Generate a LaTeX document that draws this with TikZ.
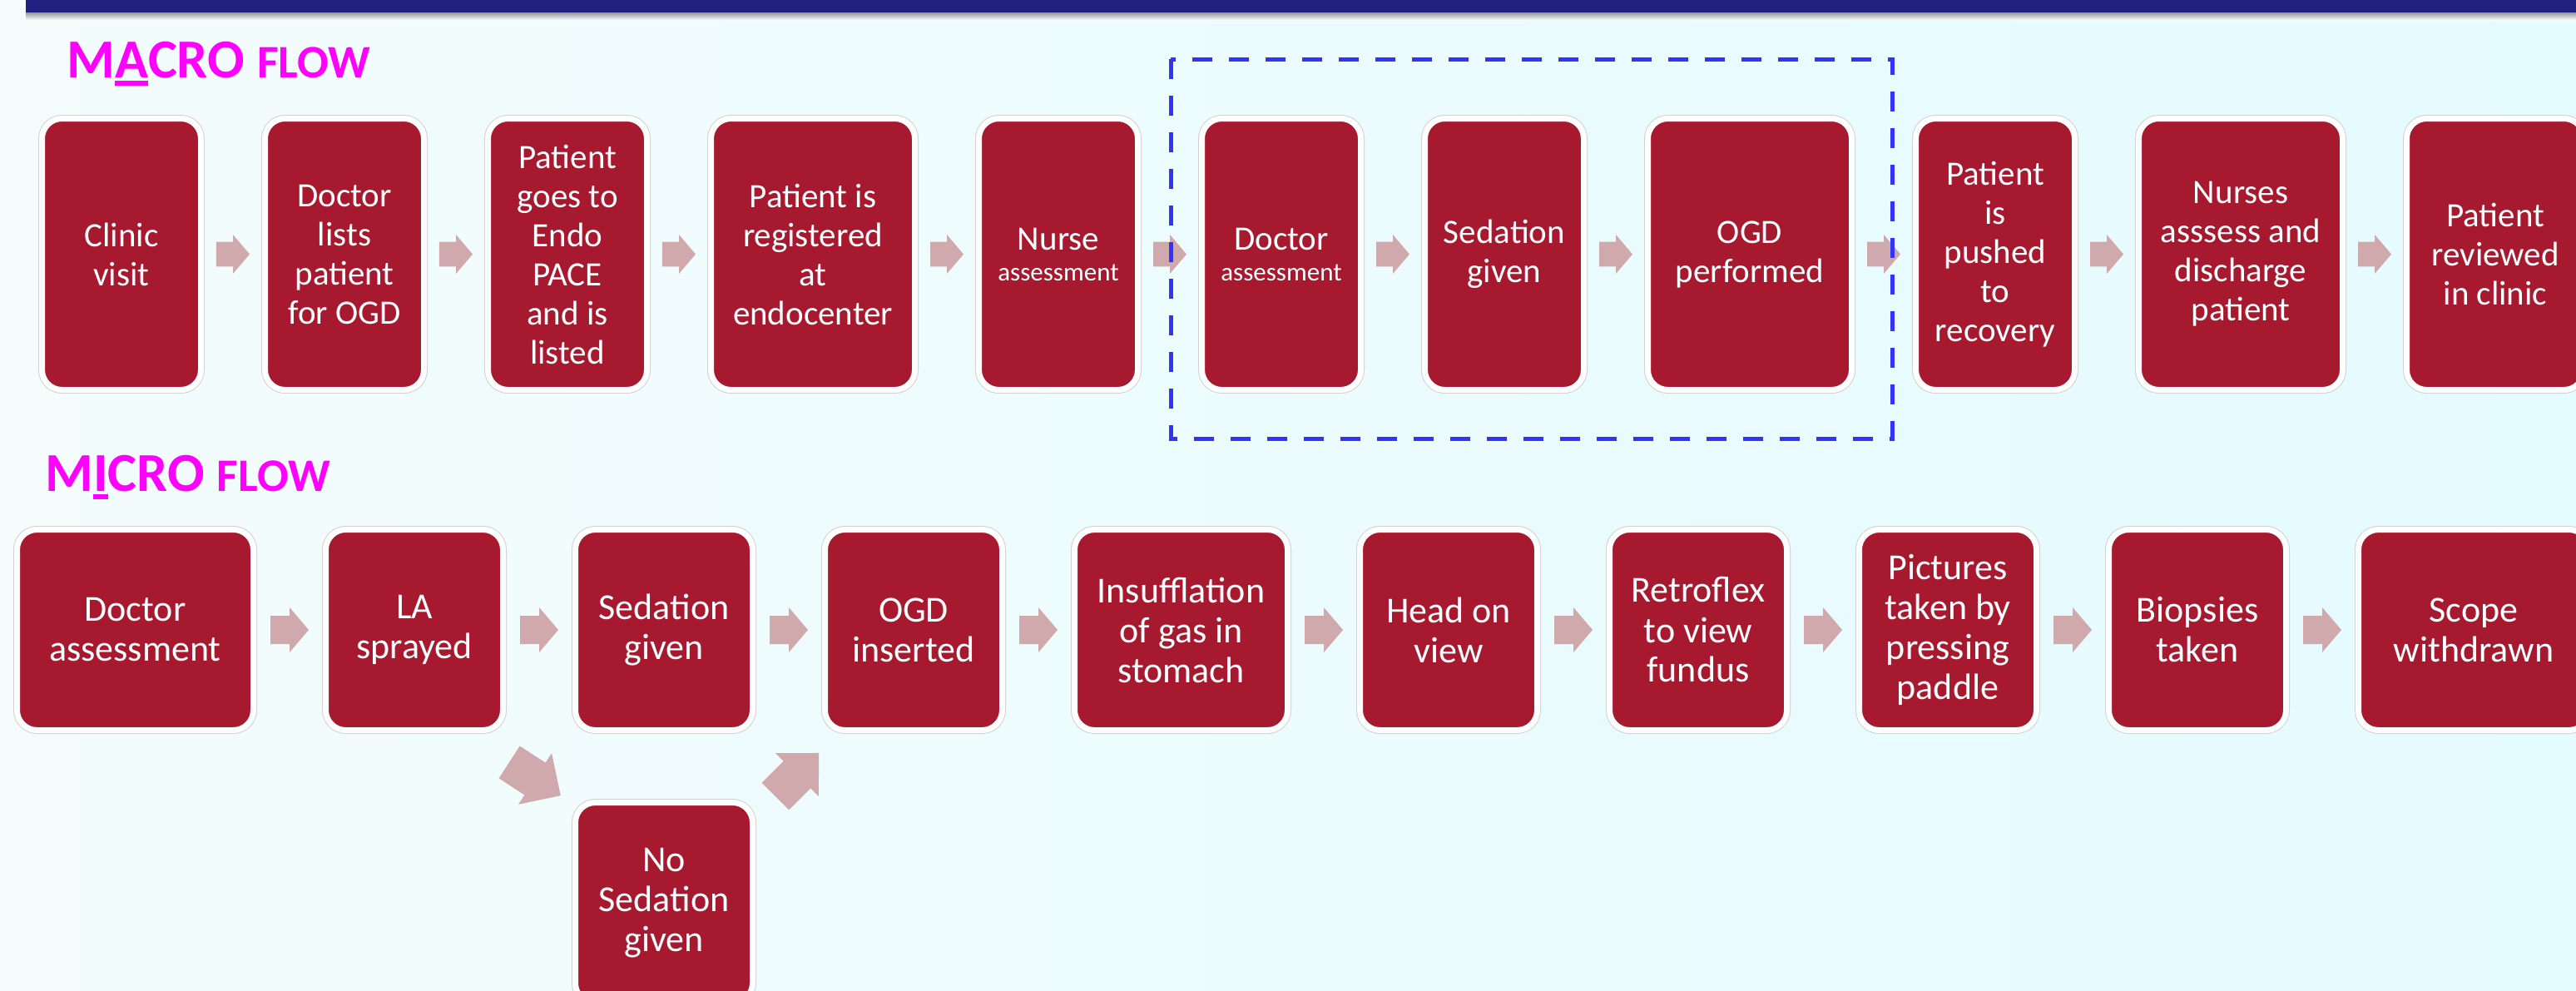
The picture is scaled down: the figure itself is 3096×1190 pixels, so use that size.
\documentclass[tikz,border=0pt]{standalone}
\usepackage{fontspec}
\setmainfont{Carlito}
\usetikzlibrary{positioning,calc}
\definecolor{boxred}{RGB}{166,25,46}
\definecolor{arrowpink}{RGB}{207,169,172}
\definecolor{titlemag}{RGB}{255,0,255}
\definecolor{dashblue}{RGB}{51,51,255}
\definecolor{barnavy}{RGB}{32,32,128}
\definecolor{bgleft}{RGB}{244,252,252}
\definecolor{bgright}{RGB}{228,251,255}
\newcommand\thickul[1]{\setbox0=\hbox{#1}\rlap{\rule[-5pt]{\wd0}{3pt}}\box0}

\begin{document}
\begin{tikzpicture}
  [x=0.5pt,y=-0.5pt,
  mbox/.style={rectangle,rounded corners=12pt,fill=boxred,draw=white,line width=3.5pt,
    preaction={draw=black!18,line width=4.5pt},text=white,align=center,inner sep=2pt,
    minimum width=95.5pt,minimum height=163pt,font=\fontsize{20.5}{23.5}\selectfont},
  nbox/.style={mbox,minimum width=106.5pt,minimum height=120.5pt,font=\fontsize{22}{24}\selectfont},
  flowtitle/.style={anchor=base west,inner sep=0pt,text=titlemag,font=\fontsize{33}{36}\selectfont\bfseries},
  blockarrow/.pic={\fill[arrowpink] (-23,-17) -- (0,-17) -- (0,-27) -- (23,0) -- (0,27) -- (0,17) -- (-23,17) -- cycle;},
  groupbox/.style={draw=dashblue,line width=2.5pt,dash pattern=on 12pt off 10pt}]

  \useasboundingbox (0,0) rectangle (3096,1190);
  \clip (0,0) rectangle (3096,1190);
  \shade[left color=bgleft,right color=bgright] (0,0) rectangle (3096,1190);
  \shade[top color=black!40,bottom color=bgleft] (31,15) rectangle (3096,24);
  \fill[barnavy] (31,0) rectangle (3096,15);

  \node (tmacro) [flowtitle] at (80,93) {M\thickul{A}CRO {\fontsize{28}{30}\selectfont FLOW}};
  \node (tmicro) [flowtitle] at (54,590) {M\thickul{I}CRO {\fontsize{28}{30}\selectfont FLOW}};

  \node (m1) [mbox,anchor=west] at (47,305.5) {Clinic\\visit};
  \node (m2) [mbox,right=35pt of m1] {Doctor\\lists\\patient\\for OGD};
  \node (m3) [mbox,right=35pt of m2] {Patient\\goes to\\Endo\\PACE\\and is\\listed};
  \node (m4) [mbox,minimum width=122.5pt,right=35pt of m3] {Patient is\\registered\\at\\endocenter};
  \node (m5) [mbox,right=35pt of m4] {Nurse\\[-5pt]{\fontsize{15.5}{18}\selectfont assessment}};
  \node (m6) [mbox,right=35pt of m5] {Doctor\\[-5pt]{\fontsize{15.5}{18}\selectfont assessment}};
  \node (m7) [mbox,right=35pt of m6] {Sedation\\given};
  \node (m8) [mbox,minimum width=122.5pt,right=35pt of m7] {OGD\\performed};
  \node (m9) [mbox,right=35pt of m8] {Patient\\is\\pushed\\to\\recovery};
  \node (m10) [mbox,minimum width=122.5pt,right=35pt of m9] {Nurses\\asssess and\\discharge\\patient};
  \node (m11) [mbox,minimum width=106.5pt,right=35pt of m10] {Patient\\reviewed\\in clinic};

  \node (n1) [nbox,minimum width=142pt,anchor=west] at (17,757) {Doctor\\assessment};
  \node (n2) [nbox,right=40pt of n1] {LA\\sprayed};
  \node (n3) [nbox,right=40pt of n2] {Sedation\\given};
  \node (n4) [nbox,right=40pt of n3] {OGD\\inserted};
  \node (n5) [nbox,minimum width=128pt,right=40pt of n4] {Insufflation\\of gas in\\stomach};
  \node (n6) [nbox,right=40pt of n5] {Head on\\view};
  \node (n7) [nbox,right=40pt of n6] {Retroflex\\to view\\fundus};
  \node (n8) [nbox,right=40pt of n7] {Pictures\\taken by\\pressing\\paddle};
  \node (n9) [nbox,right=40pt of n8] {Biopsies\\taken};
  \node (n10) [nbox,minimum width=138.5pt,right=40pt of n9] {Scope\\withdrawn};
  \node (ns) [nbox,below=40pt of n3] {No\\Sedation\\given};

  \pic[scale=.87] at ($(m1.east)!.5!(m2.west)$) {blockarrow};
  \pic[scale=.87] at ($(m2.east)!.5!(m3.west)$) {blockarrow};
  \pic[scale=.87] at ($(m3.east)!.5!(m4.west)$) {blockarrow};
  \pic[scale=.87] at ($(m4.east)!.5!(m5.west)$) {blockarrow};
  \pic[scale=.87] at ($(m5.east)!.5!(m6.west)$) {blockarrow};
  \pic[scale=.87] at ($(m6.east)!.5!(m7.west)$) {blockarrow};
  \pic[scale=.87] at ($(m7.east)!.5!(m8.west)$) {blockarrow};
  \pic[scale=.87] at ($(m8.east)!.5!(m9.west)$) {blockarrow};
  \pic[scale=.87] at ($(m9.east)!.5!(m10.west)$) {blockarrow};
  \pic[scale=.87] at ($(m10.east)!.5!(m11.west)$) {blockarrow};

  \pic at ($(n1.east)!.5!(n2.west)$) {blockarrow};
  \pic at ($(n2.east)!.5!(n3.west)$) {blockarrow};
  \pic at ($(n3.east)!.5!(n4.west)$) {blockarrow};
  \pic at ($(n4.east)!.5!(n5.west)$) {blockarrow};
  \pic at ($(n5.east)!.5!(n6.west)$) {blockarrow};
  \pic at ($(n6.east)!.5!(n7.west)$) {blockarrow};
  \pic at ($(n7.east)!.5!(n8.west)$) {blockarrow};
  \pic at ($(n8.east)!.5!(n9.west)$) {blockarrow};
  \pic at ($(n9.east)!.5!(n10.west)$) {blockarrow};
  \pic[rotate=-33,xscale=1.6,yscale=1.36] at ($(n2.south east)!.5!(ns.north west)+(-5,15)$) {blockarrow};
  \pic[rotate=45,xscale=1.6,yscale=1.36] at ($(ns.north east)!.5!(n4.south west)+(10,10)$) {blockarrow};

  \draw[groupbox] ($(m6.north west)+(-34,-68)$) rectangle ($(m8.south east)+(45,55)$);
\end{tikzpicture}
\end{document}
